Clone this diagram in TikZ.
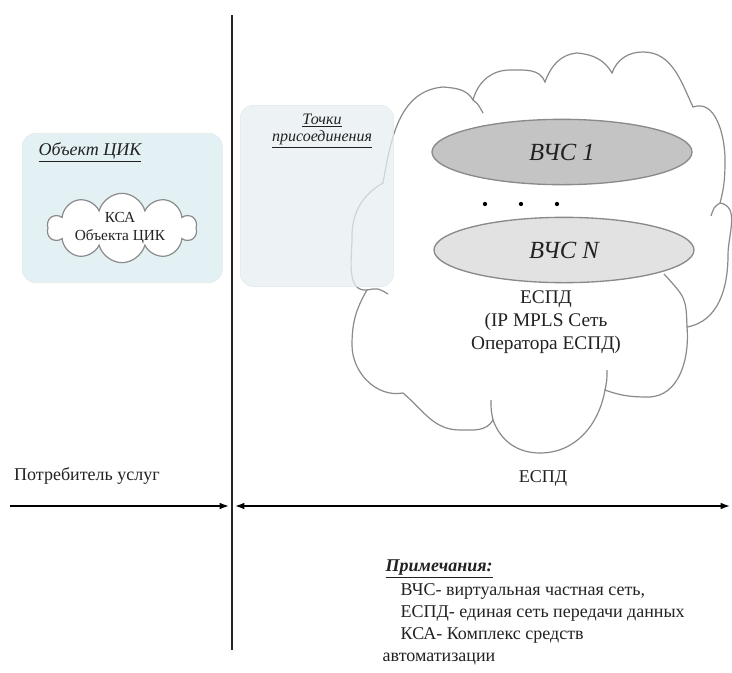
\documentclass[tikz,border=0pt]{standalone}
\usepackage{fontspec}
\setmainfont{Liberation Serif}
\usetikzlibrary{arrows.meta,shapes.symbols,shapes.geometric}
\definecolor{boxA}{HTML}{E3F1F4}
\definecolor{boxB}{HTML}{E7EEF1}
\definecolor{cloudline}{HTML}{8A8A8A}
\definecolor{vcsA}{HTML}{C4C4C4}
\definecolor{vcsB}{HTML}{E2E2E2}
\definecolor{txt}{HTML}{222222}
\tikzset{
  zonebox/.style={rounded corners=10pt, draw=boxA!80!gray!60, line width=0.4pt},
  cloudedge/.style={draw=cloudline, line width=0.9pt},
  vcs/.style={ellipse, draw=cloudline, line width=1pt, minimum width=195pt, minimum height=49pt, inner sep=0pt, font=\fontsize{18.5}{21}\selectfont\itshape, text=txt},
  label/.style={font=\fontsize{13.5}{16}\selectfont, text=txt},
  note/.style={font=\fontsize{13.5}{16}\selectfont, text=txt, anchor=west},
  axis/.style={line width=1.1pt, black}
}
\begin{document}
\begin{tikzpicture}[x=0.75pt,y=-0.75pt]
\useasboundingbox (0,0) rectangle (732,672);
\clip (0,0) rectangle (732,672);
\fill[white] (0,0) rectangle (732,672);

% big cloud (ЕСПД)
\draw[cloudedge, fill=white]
  (383,183) to[out=80,in=185] (443,87) to[out=-5,in=120] (473,100)
  to[out=75,in=180] (510,70) to[out=0,in=110] (545,82)
  to[out=70,in=185] (577,53) to[out=-5,in=120] (612,73)
  to[out=70,in=180] (643,52) to[out=0,in=115] (693,107)
  to[out=20,in=90] (725,160) to[out=-90,in=75] (720,203)
  to[out=-10,in=90] (728,255) to[out=-90,in=10] (687,327)
  to[out=-85,in=0] (648,397) to[out=180,in=-20] (605,390)
  to[out=-100,in=0] (540,453) to[out=180,in=-70] (493,420)
  to[out=-120,in=0] (460,430) to[out=180,in=-40] (403,393)
  to[out=-170,in=-90] (352,345) to[out=90,in=-120] (367,290)
  to[out=-175,in=-90] (352,237) to[out=90,in=-150] (383,183) -- cycle;
% inner tails of the cloud arcs
\coordinate (t1) at (473,100); \coordinate (t1e) at (483,113);
\coordinate (t2) at (720,203); \coordinate (t2e) at (711,216);
\coordinate (t3) at (687,327); \coordinate (t3e) at (664,274);
\coordinate (t4) at (605,390); \coordinate (t4e) at (607,370);
\coordinate (t5) at (493,420); \coordinate (t5e) at (491,400);
\coordinate (t6) at (367,290); \coordinate (t6e) at (388,294);
\draw[cloudedge] (t1) .. controls (478,104) .. (t1e);
\draw[cloudedge] (t2) .. controls (714,207) .. (t2e);
\draw[cloudedge] (t3) .. controls (686,298) .. (t3e);
\draw[cloudedge] (t4) .. controls (607,380) .. (t4e);
\draw[cloudedge] (t5) .. controls (491,410) .. (t5e);
\draw[cloudedge] (t6) .. controls (378,288) .. (t6e);

% left zone: Объект ЦИК
\node[zonebox, fill=boxA, minimum width=150pt, minimum height=112pt, anchor=north west] (objbox) at (22,133) {};
\node[font=\fontsize{13.5}{16}\selectfont\itshape, text=txt] (objtitle) at (90,152) {\underline{Объект ЦИК}};
\node[cloud, cloud puffs=10, aspect=2.1, draw=cloudline, fill=white, line width=0.9pt,
      minimum width=112pt, minimum height=52pt, inner sep=0pt] (ksa) at (122,228) {};
\node[font=\fontsize{11.5}{14}\selectfont, text=txt, align=center] (ksatext) at (120,228) {КСА\\Объекта ЦИК};

% middle zone: Точки присоединения
\node[zonebox, fill=boxB, fill opacity=0.75, minimum width=115pt, minimum height=136pt, anchor=north west] (tpbox) at (240,105) {};
\node[font=\fontsize{12}{14}\selectfont\itshape, text=txt, align=center] (tptitle) at (322,131)
  {\underline{Точки}\\[-1pt]\underline{присоединения}};

% VPNs
\node[vcs, fill=vcsA] (v1) at (562,152) {ВЧС 1};
\node[vcs, fill=vcsB] (vn) at (564,250) {ВЧС N};
\foreach \xx in {485,521,557} \fill[black] (\xx,204) circle (1.6pt);

\node[font=\fontsize{14.5}{17}\selectfont, text=txt, align=center] (espdtext) at (546,322)
  {ЕСПД\\(IP MPLS Сеть\\Оператора ЕСПД)};

% divider
\coordinate (divtop) at (232,15);
\coordinate (divbot) at (232,650);
\draw[line width=1.4pt, black!85] (divtop) -- (divbot);

% bottom labels and arrows
\node[label] (consumer) at (87,476) {Потребитель услуг};
\node[label] (espd) at (543,478) {ЕСПД};
\coordinate (a0) at (10,506);
\coordinate (a1) at (229,506);
\coordinate (b0) at (235,506);
\coordinate (b1) at (730,506);
\draw[axis, -{Latex[length=7pt,width=5pt]}] (a0) -- (a1);
\draw[axis, {Latex[length=7pt,width=5pt]}-{Latex[length=7pt,width=5pt]}] (b0) -- (b1);

% notes
\node[note, font=\fontsize{13.5}{16}\selectfont\bfseries\itshape] (notes) at (381,569) {\underline{Примечания:}};
\node[note] (n1) at (396,591) {ВЧС- виртуальная частная сеть,};
\node[note] (n2) at (396,613) {ЕСПД- единая сеть передачи данных};
\node[note] (n3) at (396,635) {КСА- Комплекс средств};
\node[note] (n4) at (378,659) {автоматизации};
\end{tikzpicture}
\end{document}
